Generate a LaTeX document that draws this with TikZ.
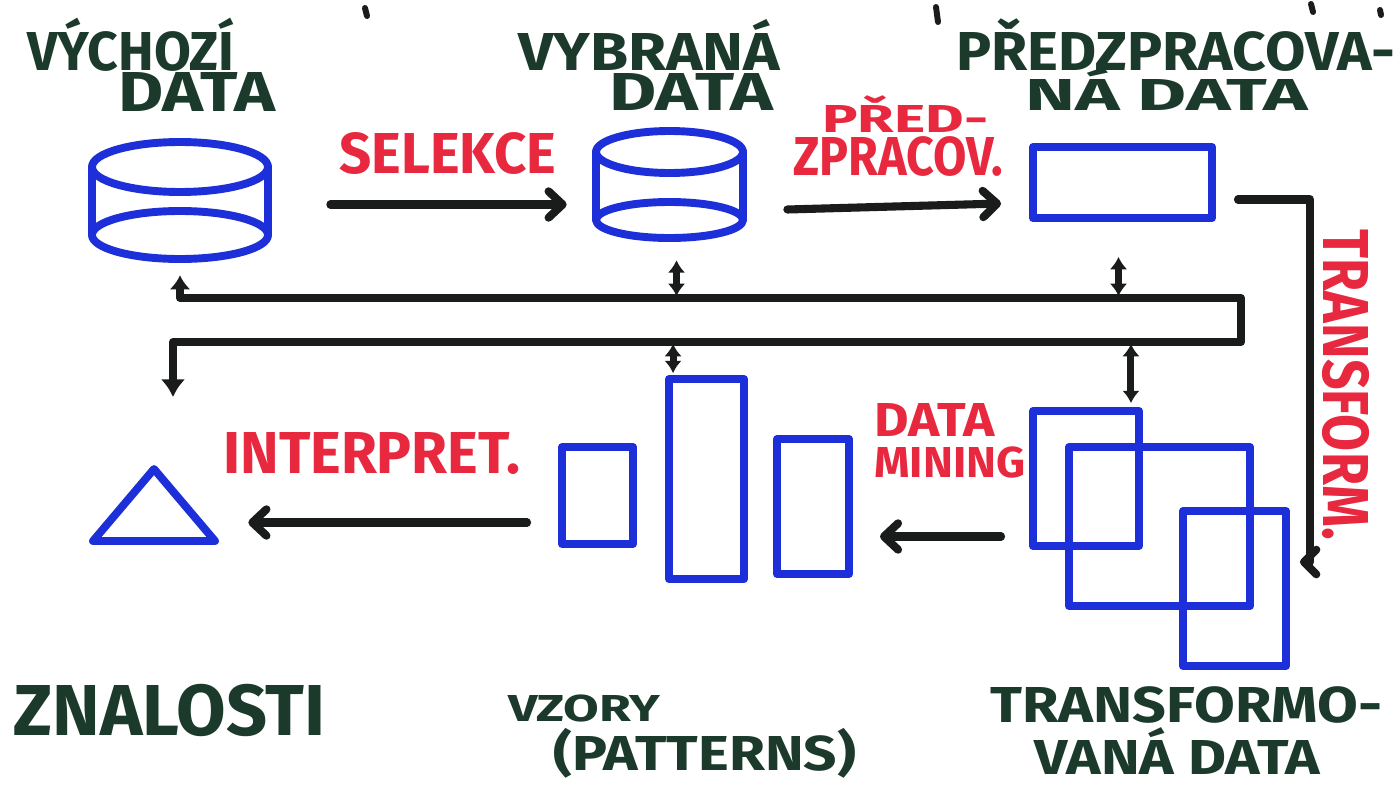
\documentclass[tikz,border=0pt]{standalone}
\usepackage{fontspec}
\setmainfont{Fira Sans}
\usepackage{graphicx}
\usetikzlibrary{arrows.meta,fit}

\definecolor{mblue}{RGB}{28,47,216}
\definecolor{mred}{RGB}{232,40,62}
\definecolor{mink}{RGB}{26,28,28}
\definecolor{mgreen}{RGB}{27,58,44}

% one pixel of the drawing grid
\newlength{\px}\setlength{\px}{0.02cm}
% marker lettering: width and cap height given in pixels
\newcommand{\hand}[3]{\resizebox{#1\px}{#2\px}{\raisebox{0pt}[\fontcharht\font`A][0pt]{#3}}}

\tikzset{
  blueline/.style={draw=mblue, line width=4.5pt, line join=round, line cap=round},
  ink/.style={draw=mink, line width=4.6pt, line cap=round, line join=round},
  arr/.style={ink, -{Straight Barb[length=8pt,width=15pt,round]}},
  dbl/.style={ink, line width=4pt, {Latex[length=7pt,width=10pt]}-{Latex[length=7pt,width=10pt]}},
  busline/.style={ink, {Latex[length=8pt,width=12pt]}-{Latex[length=10pt,width=14pt]}},
  frame/.style={blueline, inner sep=0pt},
  hold/.style={inner sep=0pt},
  lbl/.style={inner sep=0pt, anchor=north west, align=left, font=\bfseries},
  dark/.style={lbl, text=mgreen},
  redl/.style={lbl, text=mred},
}

\begin{document}
\begin{tikzpicture}[x=0.02cm, y=-0.02cm]
\useasboundingbox[fill=white] (0,0) rectangle (1398,787);

% stray strokes along the top edge
\draw[ink, line width=3.4pt] (365,8) -- (367,16);
\draw[ink, line width=3.4pt] (936,7) -- (938,22);
\draw[ink, line width=3.4pt] (1311,4) -- (1313,12);
\draw[ink, line width=3.4pt] (1380,10) -- (1381,15);

% ---- source data cylinder
\draw[blueline] (180,167) ellipse [x radius=88, y radius=25];
\draw[blueline] (180,235) ellipse [x radius=88, y radius=24];
\draw[blueline] (92,167) -- (92,235);
\draw[blueline] (268,167) -- (268,235);
\node[hold, fit={(92,142) (268,259)}] (c1) {};

% ---- selected data cylinder
\draw[blueline] (669.5,152) ellipse [x radius=73.5, y radius=21];
\draw[blueline] (669.5,220) ellipse [x radius=73.5, y radius=18];
\draw[blueline] (596,152) -- (596,220);
\draw[blueline] (743,152) -- (743,220);
\node[hold, fit={(596,131) (743,238)}] (c2) {};

% ---- preprocessed data
\node[frame, fit={(1033,147) (1212,218)}] (pre) {};

% ---- transformed data
\node[frame, fit={(1033,411) (1139,546)}] (r1) {};
\node[frame, fit={(1069,447) (1250,606)}] (r2) {};
\node[frame, fit={(1183,511) (1286,666)}] (r3) {};

% ---- patterns
\node[frame, fit={(562,447) (633,544)}] (pat1) {};
\node[frame, fit={(669,379) (744,579)}] (pat2) {};
\node[frame, fit={(777,439) (849,574)}] (pat3) {};

% ---- knowledge
\draw[blueline] (154,469) -- (215,541) -- (93,541) -- cycle;
\node[hold, fit={(93,469) (215,541)}] (tri) {};

% ---- process arrows
\draw[arr, shorten <=62\px, shorten >=29\px]
  ([yshift=-4\px]c1.east) -- ([yshift=-4\px]c1.east -| c2.west);
\draw[arr] ([xshift=44\px,yshift=-25\px]c2.east) -- ([xshift=-28\px,yshift=-21\px]pre.west);

\coordinate (tdown) at (1310,562);
\draw[arr, -{Straight Barb[length=7pt,width=14pt,round]}, shorten >=10\px]
  ([xshift=22\px,yshift=-17\px]pre.east) -| (tdown) -- (tdown -| r3.east);

\draw[arr, shorten >=27\px]
  ([xshift=-28\px,yshift=-58\px]r1.west) -- ([yshift=-58\px]r1.west -| pat3.east);
\draw[arr, shorten >=33\px]
  ([xshift=-31\px,yshift=-27\px]pat1.west) -- ([yshift=-27\px]pat1.west -| tri.east);

% ---- feedback bus
\coordinate (busTR) at (1241,298);
\coordinate (busBR) at (1241,342);
\coordinate (zdown) at (173,397);
\draw[busline, shorten <=16\px] (c1.south) |- (busTR) -- (busBR) -| (zdown);

\draw[dbl, shorten <=22\px, shorten >=2\px]
  ([xshift=7\px]c2.south) -- ([xshift=7\px]c2.south |- busTR);
\draw[dbl, shorten <=2\px, shorten >=2\px]
  ([xshift=8\px]pat2.north west |- busBR) -- ([xshift=8\px]pat2.north west);
\draw[dbl, shorten <=35\px, shorten >=2\px]
  ([xshift=-4\px]pre.south) -- ([xshift=-4\px]pre.south |- busTR);
\draw[dbl, shorten <=2\px, shorten >=4\px]
  ([xshift=-12\px]r1.north east |- busBR) -- ([xshift=-12\px]r1.north east);

% ---- captions (two-line captions set as one block)
\node[dark] (tvych) at (27,32)
  {\hand{207}{38}{VÝCHOZÍ}\\\hspace*{91\px}\hand{157}{39}{DATA}};
\node[dark] (tvyb) at (518,33)
  {\hand{262}{37}{VYBRANÁ}\\[1pt]\hspace*{91\px}\hand{164}{37}{DATA}};
\node[dark] (tpre) at (956,32)
  {\hand{439}{38}{PŘEDZPRACOVA-}\\[4pt]\hspace*{69\px}\hand{283}{31}{NÁ DATA}};

\node[redl] (tsel) at (339,133) {\hand{217}{40}{SELEKCE}};
\node[redl] (tpz) at (793,105)
  {\hspace*{29\px}\hand{166}{27}{PŘED-}\\[1.8pt]\hand{210}{38}{ZPRACOV.}};
\node[inner sep=0pt, font=\bfseries, text=mred, rotate=-90] (ttrf) at (1345.5,385)
  {\hand{310}{45}{TRANSFORM.}};
\node[redl] (tdm) at (874,403)
  {\hand{120}{33}{DATA}\\[5.3pt]\hand{151}{30}{MINING}};
\node[redl] (tint) at (223,432) {\hand{297}{41}{INTERPRET.}};

\node[dark] (tzn) at (13,685) {\hand{312}{50}{ZNALOSTI}};
\node[dark] (tvz) at (508,695)
  {\hand{152}{26}{VZORY}\\[7.5pt]\hspace*{45\px}\hand{303}{34}{(PATTERNS)}};
\node[dark] (ttr) at (990,687)
  {\hand{392}{35}{TRANSFORMO-}\\[9.2pt]\hspace*{44\px}\hand{286}{34}{VANÁ DATA}};
\end{tikzpicture}
\end{document}
